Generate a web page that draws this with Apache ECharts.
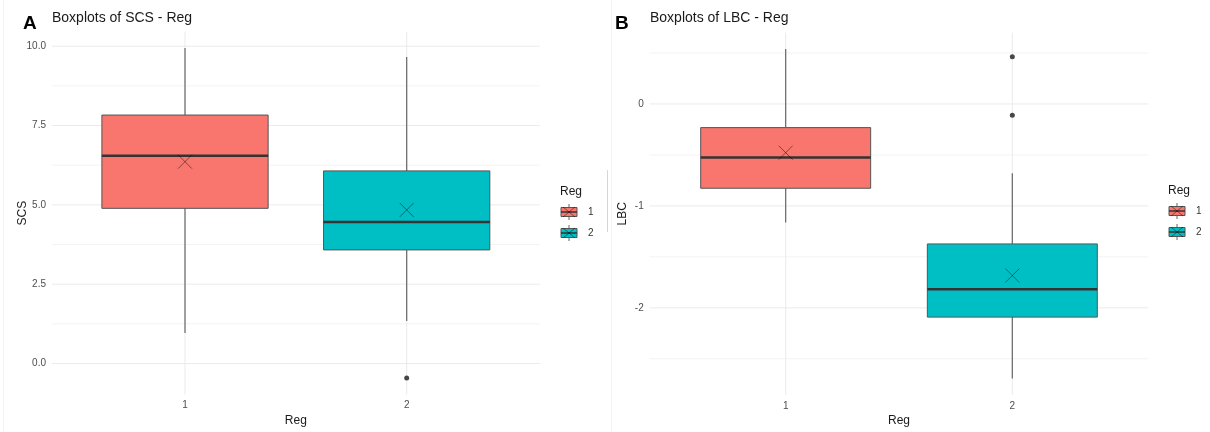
<!DOCTYPE html>
<html>
<head>
<meta charset="utf-8">
<script src="https://cdn.jsdelivr.net/npm/echarts@6/dist/echarts.min.js"></script>
<style>
  html, body { margin: 0; padding: 0; background: #fff; }
  #chart { width: 1210px; height: 432px; }
</style>
</head>
<body>
<div id="chart"></div>
<script>
// categories
const regs = ['1', '2']
const regPos = [1, 2]
const boxColors = ['#F8766D', '#00BFC4']

// panel A: SCS
const scsMin = [0.96, 1.34]
const scsQ1 = [4.89, 3.58]
const scsMedian = [6.55, 4.46]
const scsQ3 = [7.83, 6.07]
const scsMax = [9.94, 9.66]
const scsMean = [6.36, 4.84]
const scsOutliers = [[2, -0.46]]
const scsTicks = [0, 2.5, 5, 7.5, 10]
const scsMinorTicks = [1.25, 3.75, 6.25, 8.75]

// panel B: LBC
const lbcMin = [-1.164, -2.693]
const lbcQ1 = [-0.827, -2.091]
const lbcMedian = [-0.526, -1.817]
const lbcQ3 = [-0.232, -1.373]
const lbcMax = [0.539, -0.68]
const lbcMean = [-0.478, -1.683]
const lbcOutliers = [[2, 0.464], [2, -0.111]]
const lbcTicks = [-2, -1, 0]
const lbcMinorTicks = [-2.5, -1.5, -0.5, 0.5]

const font = "'Liberation Sans', Arial, sans-serif"

function boxData(mins, q1s, meds, q3s, maxs, means) {
  return regPos.map((x, i) => [x, mins[i], q1s[i], meds[i], q3s[i], maxs[i], means[i]])
}

function renderBox(params, api) {
  const x = api.value(0)
  const lo = api.coord([x, api.value(1)])
  const q1 = api.coord([x, api.value(2)])
  const md = api.coord([x, api.value(3)])
  const q3 = api.coord([x, api.value(4)])
  const hi = api.coord([x, api.value(5)])
  const mn = api.coord([x, api.value(6)])
  const w = api.size([0.75, 0])[0]
  const cx = q1[0]
  const s = 7
  const whisker = { stroke: '#666', lineWidth: 1.2 }
  const cross = { stroke: 'rgba(0,0,0,0.45)', lineWidth: 1 }
  return {
    type: 'group',
    children: [
      { type: 'line', shape: { x1: cx, y1: hi[1], x2: cx, y2: q3[1] }, style: whisker },
      { type: 'line', shape: { x1: cx, y1: q1[1], x2: cx, y2: lo[1] }, style: whisker },
      {
        type: 'rect',
        shape: { x: cx - w / 2, y: q3[1], width: w, height: q1[1] - q3[1] },
        style: { fill: boxColors[params.dataIndex], stroke: '#555', lineWidth: 1 },
      },
      {
        type: 'line',
        shape: { x1: cx - w / 2, y1: md[1], x2: cx + w / 2, y2: md[1] },
        style: { stroke: '#333', lineWidth: 2.5 },
      },
      { type: 'line', shape: { x1: cx - s, y1: mn[1] - s, x2: cx + s, y2: mn[1] + s }, style: cross },
      { type: 'line', shape: { x1: cx - s, y1: mn[1] + s, x2: cx + s, y2: mn[1] - s }, style: cross },
    ],
  }
}

function hLines(idx, ticks, color) {
  return {
    type: 'custom',
    xAxisIndex: idx,
    yAxisIndex: idx,
    z: 1,
    silent: true,
    data: ticks.map((v) => [1, v]),
    encode: { x: 0, y: 1 },
    renderItem(params, api) {
      const y = api.coord([1, api.value(1)])[1]
      const cs = params.coordSys
      return {
        type: 'line',
        shape: { x1: cs.x, y1: y, x2: cs.x + cs.width, y2: y },
        style: { stroke: color, lineWidth: 1 },
      }
    },
  }
}

function vLines(idx) {
  return {
    type: 'custom',
    xAxisIndex: idx,
    yAxisIndex: idx,
    z: 1,
    silent: true,
    data: regPos.map((v) => [v, 0]),
    encode: { x: 0, y: 1 },
    renderItem(params, api) {
      const x = api.coord([api.value(0), 0])[0]
      const cs = params.coordSys
      return {
        type: 'line',
        shape: { x1: x, y1: cs.y, x2: x, y2: cs.y + cs.height },
        style: { stroke: '#ebebeb', lineWidth: 1 },
      }
    },
  }
}

function legend(x, y) {
  const items = [
    { type: 'text', x: x, y: y, style: { text: 'Reg', font: '12px ' + font, fill: '#1a1a1a', verticalAlign: 'middle' } },
  ]
  regs.forEach((r, i) => {
    const cx = x + 9
    const cy = y + 20 + i * 21
    const g = { stroke: '#666', lineWidth: 1 }
    items.push(
      { type: 'line', shape: { x1: cx, y1: cy - 8, x2: cx, y2: cy + 8 }, style: g },
      { type: 'rect', shape: { x: cx - 8, y: cy - 4.5, width: 16, height: 9 }, style: { fill: boxColors[i], stroke: '#555', lineWidth: 1 } },
      { type: 'line', shape: { x1: cx - 8, y1: cy, x2: cx + 8, y2: cy }, style: { stroke: '#333', lineWidth: 1.5 } },
      { type: 'line', shape: { x1: cx - 6, y1: cy - 5, x2: cx + 6, y2: cy + 5 }, style: { stroke: 'rgba(0,0,0,0.45)', lineWidth: 1 } },
      { type: 'line', shape: { x1: cx - 6, y1: cy + 5, x2: cx + 6, y2: cy - 5 }, style: { stroke: 'rgba(0,0,0,0.45)', lineWidth: 1 } },
      { type: 'text', x: x + 28, y: cy, style: { text: r, font: '10px ' + font, fill: '#333', verticalAlign: 'middle' } }
    )
  })
  return items
}

function xAxis(idx) {
  return {
    type: 'value',
    gridIndex: idx,
    min: 0.4,
    max: 2.6,
    name: 'Reg',
    nameLocation: 'middle',
    nameGap: 20,
    nameMoveOverlap: false,
    nameTextStyle: { fontSize: 12, color: '#1a1a1a', fontFamily: font },
    axisLine: { show: false },
    axisTick: { show: false },
    splitLine: { show: false },
    axisLabel: {
      customValues: regPos,
      margin: 6,
      fontSize: 10,
      color: '#4d4d4d',
      formatter: (v) => (Number.isInteger(v) && v >= 1 && v <= regs.length ? regs[v - 1] : ''),
    },
  }
}

function yAxis(idx, name, min, max, ticks, fmt, gap) {
  return {
    type: 'value',
    gridIndex: idx,
    min: min,
    max: max,
    name: name,
    nameLocation: 'middle',
    nameRotate: 90,
    nameGap: gap,
    nameMoveOverlap: false,
    nameTextStyle: { fontSize: 12, color: '#1a1a1a', fontFamily: font },
    axisLine: { show: false },
    axisTick: { show: false },
    splitLine: { show: false },
    axisLabel: { customValues: ticks, margin: 6, fontSize: 10, color: '#4d4d4d', formatter: fmt },
  }
}

const chart = echarts.init(document.getElementById('chart'))

chart.setOption({
  animation: false,
  backgroundColor: '#fff',
  textStyle: { fontFamily: font },
  title: [
    { text: 'A', left: 23, top: 14, padding: 0, textStyle: { fontSize: 19, fontWeight: 'bold', color: '#000' } },
    { text: 'Boxplots of SCS - Reg', left: 52, top: 11, padding: 0, textStyle: { fontSize: 14, fontWeight: 'normal', color: '#1a1a1a' } },
    { text: 'B', left: 615, top: 14, padding: 0, textStyle: { fontSize: 19, fontWeight: 'bold', color: '#000' } },
    { text: 'Boxplots of LBC - Reg', left: 650, top: 11, padding: 0, textStyle: { fontSize: 14, fontWeight: 'normal', color: '#1a1a1a' } },
  ],
  grid: [
    { left: 52, top: 31.6, width: 487.7, height: 363 },
    { left: 649.7, top: 32.6, width: 498.6, height: 362.6 },
  ],
  xAxis: [xAxis(0), xAxis(1)],
  yAxis: [
    yAxis(0, 'SCS', -0.98, 10.46, scsTicks, (v) => v.toFixed(1), 23),
    yAxis(1, 'LBC', -2.855, 0.7, lbcTicks, (v) => String(v), 21),
  ],
  graphic: [
    { type: 'line', shape: { x1: 3.5, y1: 0, x2: 3.5, y2: 432 }, style: { stroke: '#f4f4f4', lineWidth: 1 } },
    { type: 'line', shape: { x1: 611.5, y1: 0, x2: 611.5, y2: 432 }, style: { stroke: '#f4f4f4', lineWidth: 1 } },
    { type: 'line', shape: { x1: 607.5, y1: 170, x2: 607.5, y2: 232 }, style: { stroke: '#d6d6d6', lineWidth: 1 } },
    ...legend(560, 192),
    ...legend(1168, 191),
  ],
  series: [
    hLines(0, scsMinorTicks, '#f3f3f3'),
    hLines(0, scsTicks, '#ebebeb'),
    vLines(0),
    hLines(1, lbcMinorTicks, '#f3f3f3'),
    hLines(1, lbcTicks, '#ebebeb'),
    vLines(1),
    {
      type: 'custom',
      xAxisIndex: 0,
      yAxisIndex: 0,
      z: 2,
      data: boxData(scsMin, scsQ1, scsMedian, scsQ3, scsMax, scsMean),
      encode: { x: 0, y: [1, 2, 3, 4, 5, 6] },
      renderItem: renderBox,
    },
    {
      type: 'custom',
      xAxisIndex: 1,
      yAxisIndex: 1,
      z: 2,
      data: boxData(lbcMin, lbcQ1, lbcMedian, lbcQ3, lbcMax, lbcMean),
      encode: { x: 0, y: [1, 2, 3, 4, 5, 6] },
      renderItem: renderBox,
    },
    {
      type: 'scatter',
      xAxisIndex: 0,
      yAxisIndex: 0,
      z: 3,
      symbolSize: 5,
      itemStyle: { color: '#1a1a1a' },
      data: scsOutliers,
    },
    {
      type: 'scatter',
      xAxisIndex: 1,
      yAxisIndex: 1,
      z: 3,
      symbolSize: 5,
      itemStyle: { color: '#1a1a1a' },
      data: lbcOutliers,
    },
  ],
})
</script>
</body>
</html>
